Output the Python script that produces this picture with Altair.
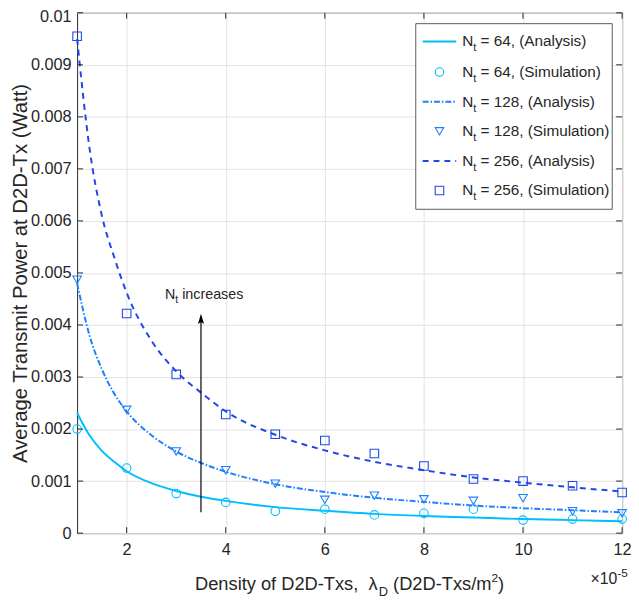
import altair as alt
import pandas as pd

# ---------------- data ----------------
x_analysis = [1, 1.25, 1.5, 1.75, 2, 2.5, 3, 3.5, 4, 5, 6, 7, 8, 9, 10, 11, 12]
nt64_analysis = [0.00231, 0.00188, 0.00158, 0.00137, 0.00119, 0.00096, 0.00081, 0.00070,
                 0.00062, 0.00050, 0.00043, 0.00037, 0.00033, 0.00030, 0.00027, 0.00025, 0.00023]
nt128_analysis = [0.00480, 0.00380, 0.00315, 0.00268, 0.00234, 0.00188, 0.00157, 0.00135,
                  0.00118, 0.00094, 0.00079, 0.00068, 0.00060, 0.00053, 0.00048, 0.00044, 0.00040]
nt256_analysis = [0.00950, 0.00740, 0.00610, 0.00530, 0.00462, 0.00370, 0.00311, 0.00270,
                  0.00234, 0.00189, 0.00159, 0.00137, 0.00121, 0.00107, 0.00097, 0.00088, 0.00080]

x_sim = [1, 2, 3, 4, 5, 6, 7, 8, 9, 10, 11, 12]
nt64_sim = [0.00200, 0.00125, 0.00076, 0.00059, 0.00042, 0.00046,
            0.00035, 0.00038, 0.00046, 0.00025, 0.00027, 0.00027]
nt128_sim = [0.00487, 0.00237, 0.00157, 0.00121, 0.00095, 0.00064,
             0.00072, 0.00065, 0.00062, 0.00067, 0.00042, 0.00038]
nt256_sim = [0.00955, 0.00422, 0.00305, 0.00228, 0.00190, 0.00178,
             0.00153, 0.00129, 0.00104, 0.00100, 0.00091, 0.00078]

x_ticks = [2, 4, 6, 8, 10, 12]
y_ticks = [0, 0.001, 0.002, 0.003, 0.004, 0.005, 0.006, 0.007, 0.008, 0.009, 0.01]

legend_labels = [" = 64, (Analysis)", " = 64, (Simulation)",
                 " = 128, (Analysis)", " = 128, (Simulation)",
                 " = 256, (Analysis)", " = 256, (Simulation)"]

arrow_x = [3.5]
arrow_y0 = [0.0004]
arrow_y1 = [0.0041]

# ---------------- styling ----------------
FONT = "Liberation Sans"
TXT = "#262626"
C64, C128, C256 = "#00BFFF", "#1E80FF", "#1F48E8"
W, H = 552, 527

AW = {' ': 278, '(': 333, ')': 333, ',': 278, '-': 333, '.': 278, '/': 278, '=': 584,
      'A': 667, 'D': 722, 'N': 722, 'S': 667, 'T': 611, 'a': 556, 'c': 500, 'e': 556,
      'f': 278, 'i': 222, 'l': 222, 'm': 833, 'n': 556, 'o': 556, 'r': 333, 's': 500,
      't': 278, 'u': 556, 'x': 500, 'y': 500, 'λ': 556, '×': 584}


def tw(s, size):
    return sum(AW.get(c, 556) for c in s) * size / 1000.0


dummy = pd.DataFrame({"d": [0]})


def rich(pieces, x0, y0):
    layers = []
    x = x0
    for t, s, dy in pieces:
        stripped = t.lstrip(" ")
        lead = tw(t[:len(t) - len(stripped)], s)
        layers.append(
            alt.Chart(dummy).mark_text(text=stripped, fontSize=s, font=FONT, align="left",
                                       baseline="alphabetic", color=TXT)
            .encode(x=alt.value(x + lead), y=alt.value(y0 + dy))
        )
        x += tw(t, s)
    return layers


def rich_width(pieces):
    return sum(tw(t, s) for t, s, dy in pieces)


xscale = alt.Scale(domain=[1, 12], nice=False, zero=False)
yscale = alt.Scale(domain=[0, 0.01], nice=False, zero=False)

x_axis = alt.Axis(values=x_ticks, title=None, grid=True, gridColor="#e2e2e2", domain=False,
                  ticks=False, labelFont=FONT, labelFontSize=16.5, labelColor=TXT, labelPadding=9,
                  labelFlush=False)
y_axis = alt.Axis(values=y_ticks, title="Average Transmit Power at D2D-Tx (Watt)",
                  titleFont=FONT, titleFontSize=20.5, titleFontWeight="normal", titleColor=TXT,
                  titlePadding=0, grid=True, gridColor="#e2e2e2", domain=False, ticks=False,
                  labelFont=FONT, labelFontSize=16.5, labelColor=TXT, labelPadding=6,
                  labelFlush=False,
                  labelExpr="datum.value == 0 ? '0' : format(datum.value, '.3~f')",
                  labelOffset={"condition": {"test": "datum.value >= 0.0099", "value": 4}, "value": 0})

X = alt.X("x:Q", scale=xscale, axis=x_axis)
Y = alt.Y("y:Q", scale=yscale, axis=y_axis)

series = [
    (x_analysis, nt64_analysis, nt64_sim, C64, [], "circle"),
    (x_analysis, nt128_analysis, nt128_sim, C128, [6, 2, 1.5, 2], "triangle-down"),
    (x_analysis, nt256_analysis, nt256_sim, C256, [6, 5], "square"),
]

layers = []
for xa, ya, ys, col, dash, shape in series:
    dfa = pd.DataFrame({"x": xa, "y": ya})
    line_kw = dict(color=col, strokeWidth=2, interpolate="monotone")
    if dash:
        line_kw["strokeDash"] = dash
    layers.append(alt.Chart(dfa).mark_line(**line_kw).encode(x=X, y=Y))
    dfs = pd.DataFrame({"x": x_sim, "y": ys})
    layers.append(alt.Chart(dfs).mark_point(shape=shape, color=col, filled=False, size=75,
                                            strokeWidth=1.1, opacity=1).encode(x=X, y=Y))

# inward tick marks (MATLAB style box)
dfxt = pd.DataFrame({"x": x_ticks})
dfyt = pd.DataFrame({"y": y_ticks})
layers.append(alt.Chart(dfxt).mark_rule(color=TXT, strokeWidth=1)
              .encode(x=X, y=alt.value(H), y2=alt.value(H - 6)))
layers.append(alt.Chart(dfxt).mark_rule(color=TXT, strokeWidth=1)
              .encode(x=X, y=alt.value(0), y2=alt.value(6)))
layers.append(alt.Chart(dfyt).mark_rule(color=TXT, strokeWidth=1)
              .encode(y=Y, x=alt.value(0), x2=alt.value(6)))
layers.append(alt.Chart(dfyt).mark_rule(color=TXT, strokeWidth=1)
              .encode(y=Y, x=alt.value(W - 6), x2=alt.value(W)))

# arrow "N_t increases"
dfarr = pd.DataFrame({"x": arrow_x, "y": arrow_y0, "y2": arrow_y1})
layers.append(alt.Chart(dfarr).mark_rule(color="black", strokeWidth=1.2)
              .encode(x=X, y=Y, y2="y2:Q"))
layers.append(alt.Chart(dfarr).mark_point(shape="M0,-1L0.5,0.7L0,0.35L-0.5,0.7Z", filled=True,
                                          color="black", size=150, opacity=1)
              .encode(x=X, y=alt.Y("y2:Q", scale=yscale, axis=y_axis)))
layers += rich([("N", 14.5, 0), ("t", 10.5, 4), (" increases", 14.5, 0)], 89, 290)

# legend
lx0, lx1, ly0, ly1 = 343, 542, 11, 199
layers.append(alt.Chart(dummy).mark_rect(fill="white", stroke="#333333", strokeWidth=0.8)
              .encode(x=alt.value(lx0), x2=alt.value(lx1), y=alt.value(ly0), y2=alt.value(ly1)))
row_y = [29, 60, 90, 120, 150, 180]
legend_styles = [
    ("line", C64, [], None), ("point", C64, None, "circle"),
    ("line", C128, [6, 2, 1.5, 2], None), ("point", C128, None, "triangle-down"),
    ("line", C256, [6, 5], None), ("point", C256, None, "square"),
]
for ry, (kind, col, dash, shape), lab in zip(row_y, legend_styles, legend_labels):
    if kind == "line":
        kw = dict(color=col, strokeWidth=2)
        if dash:
            kw["strokeDash"] = dash
        layers.append(alt.Chart(dummy).mark_rule(**kw)
                      .encode(x=alt.value(350), x2=alt.value(384), y=alt.value(ry)))
    else:
        layers.append(alt.Chart(dummy).mark_point(shape=shape, color=col, filled=False, size=75,
                                                  strokeWidth=1.1, opacity=1)
                      .encode(x=alt.value(367), y=alt.value(ry)))
    layers += rich([("N", 15.5, 0), ("t", 11, 5), (lab, 15.5, 0)], 390, ry + 5)

# x-axis title with subscript / superscript
title_pieces = [("Density of D2D-Txs,", 18.5, 0), ("  λ", 18.5, 0), ("D", 13, 6),
                (" (D2D-Txs/m", 18.5, 0), ("2", 12, -8), (")", 18.5, 0)]
tw_total = rich_width(title_pieces)
layers += rich(title_pieces, W / 2 - tw_total / 2, H + 58)

# exponent marker
layers += rich([("×10", 16, 0), ("-5", 12, -8)], 520, H + 52)

chart = alt.layer(*layers).properties(
    width=W, height=H,
    autosize=alt.AutoSizeParams(type="none"),
    padding={"left": 70, "top": 1, "right": 9, "bottom": 75},
    background="white",
).configure_view(stroke=TXT, strokeWidth=1)

chart.save("out.html", embed_options={"renderer": "svg", "actions": False})
